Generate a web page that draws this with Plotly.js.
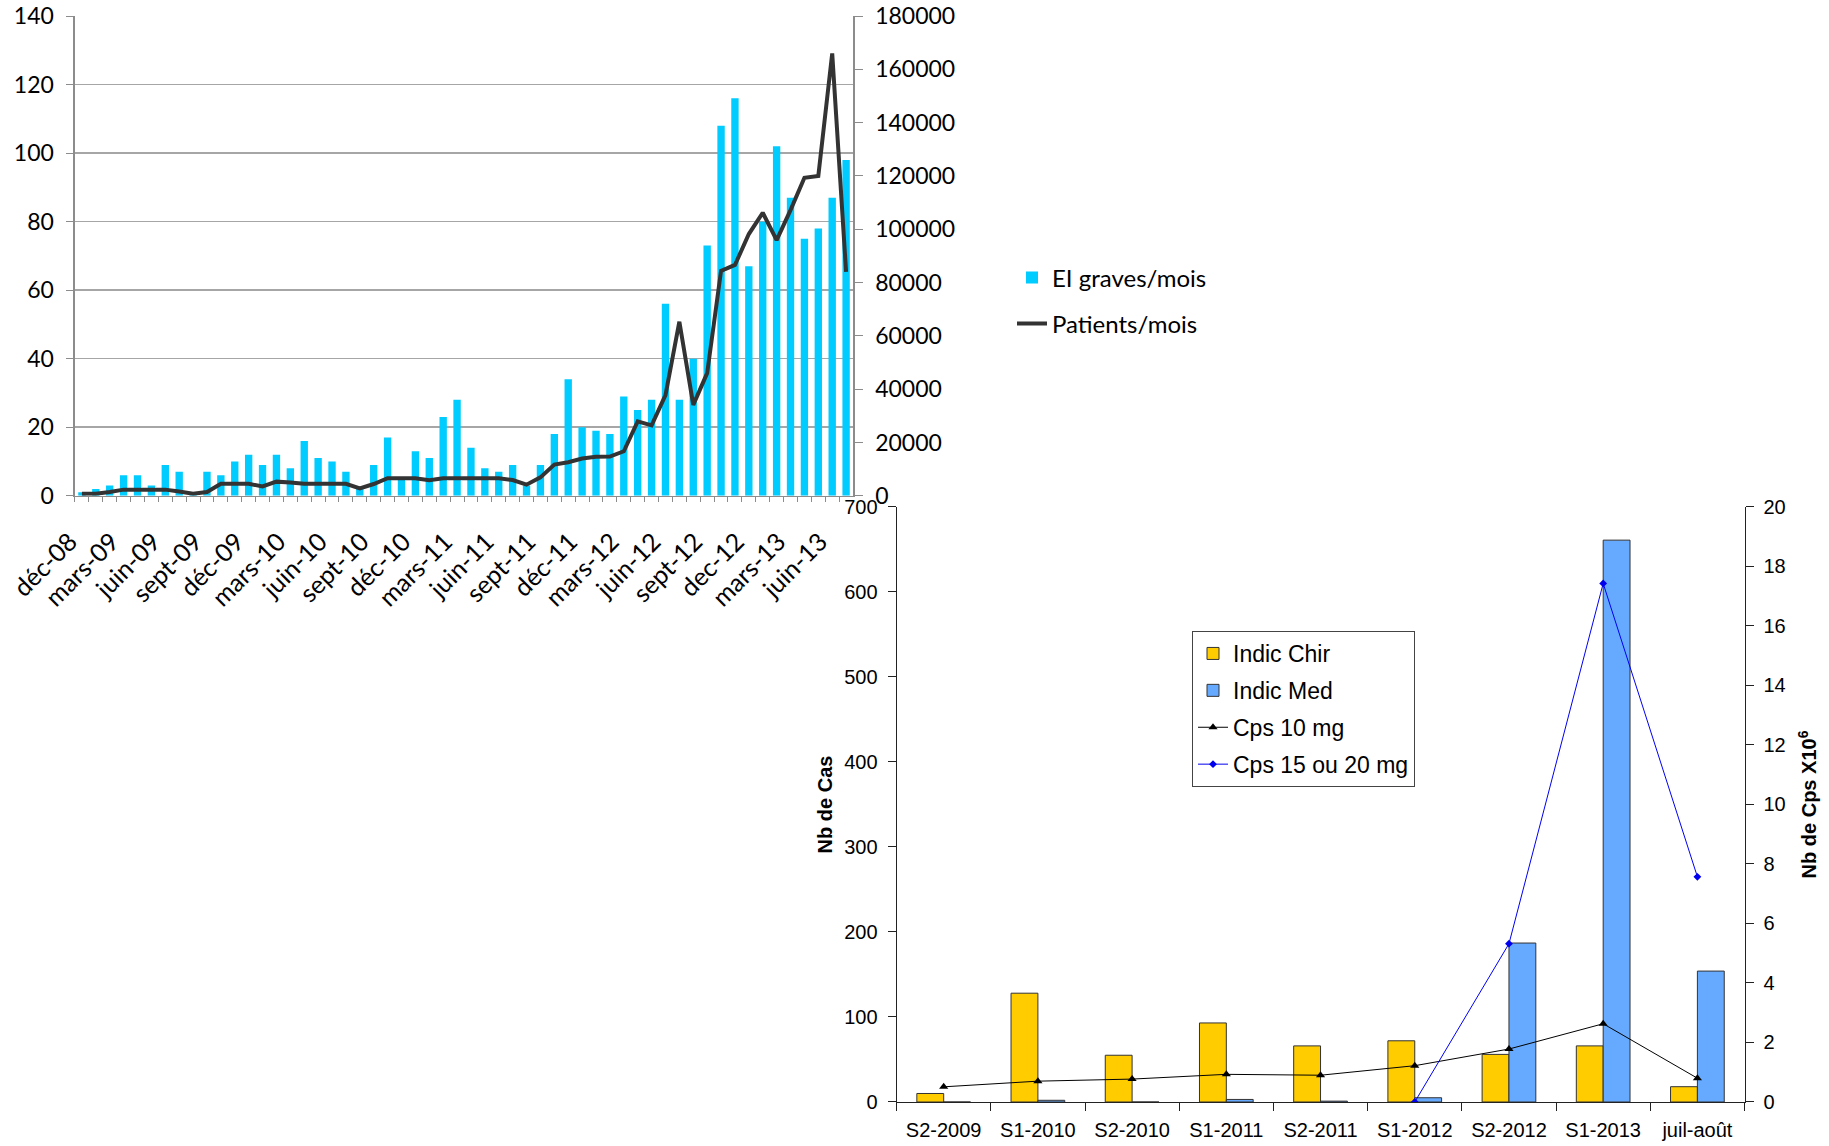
<!DOCTYPE html>
<html>
<head>
<meta charset="utf-8">
<script src="https://cdn.plot.ly/plotly-3.0.1.min.js"></script>
<style>html,body{margin:0;padding:0;background:#fff;}#chart{width:1829px;height:1146px;}</style>
</head>
<body>
<div id="chart"></div>
<script>
// ---- Top chart data (monthly) ----
const months = ['déc-08','janv-09','févr-09','mars-09','avr-09','mai-09','juin-09','juil-09','août-09','sept-09','oct-09','nov-09',
  'déc-09','janv-10','févr-10','mars-10','avr-10','mai-10','juin-10','juil-10','août-10','sept-10','oct-10','nov-10',
  'déc-10','janv-11','févr-11','mars-11','avr-11','mai-11','juin-11','juil-11','août-11','sept-11','oct-11','nov-11',
  'déc-11','janv-12','févr-12','mars-12','avr-12','mai-12','juin-12','juil-12','août-12','sept-12','oct-12','nov-12',
  'dec-12','janv-13','févr-13','mars-13','avr-13','mai-13','juin-13','juil-13'];
const eiGraves = [1,2,3,6,6,3,9,7,1,7, 6,10,12,9,12,8,16,11,10,7, 2,9,17,5,13,11,23,28,14,8,
  7,9,3,9,18,34,20,19,18,29, 25,28,56,28,40,73,108,116,67,80, 102,87,75,78,87,98];
const patients = [750,750,1400,2300,2300,2300,2300,1600,750,1400,
  4500,4500,4500,3500,5300,5000,4500,4500,4500,4500,
  2800,4400,6600,6600,6600,5800,6600,6600,6600,6600,
  6600,5900,4150,6900,11700,12600,14000,14600,14700,16700,
  27900,26400,37800,65300,34100,46000,84400,86600,98200,106200,
  95900,107200,119300,120000,166000,84000];
const monthTickText = months.map((m, i) => (i % 3 === 0 ? m : ''));

// ---- Bottom chart data (semesters) ----
const semesters = ['S2-2009','S1-2010','S2-2010','S1-2011','S2-2011','S1-2012','S2-2012','S1-2013','juil-août'];
const indicChir = [10,128,55,93,66,72,56,66,18];
const indicMed = [0,2,0,3,1,5,187,661,154];
const cps10 = [0.51,0.70,0.77,0.93,0.90,1.22,1.78,2.63,0.80];
const cps1520 = [null,null,null,null,null,0,5.32,17.43,7.57];

const topFont = 'Lato, "Open Sans", sans-serif';
const botFont = '"Liberation Sans", Arial, sans-serif';
const gray = '#8c8c8c';

const traces = [
  {type:'bar', x:months, y:eiGraves, xaxis:'x', yaxis:'y', name:'EI graves/mois',
   marker:{color:'#00CCFF'}, width:0.53, legend:'legend'},
  {type:'scatter', mode:'lines', x:months, y:patients, xaxis:'x', yaxis:'y2', name:'Patients/mois',
   line:{color:'#333333', width:4}, legend:'legend2'},
  {type:'bar', x:semesters, y:indicChir, xaxis:'x2', yaxis:'y3', name:'Indic Chir',
   marker:{color:'#FFCC00', line:{color:'#333', width:1}}, legend:'legend3', legendgroup:'a'},
  {type:'bar', x:semesters, y:indicMed, xaxis:'x2', yaxis:'y3', name:'Indic Med',
   marker:{color:'#66AAFF', line:{color:'#333', width:1}}, legend:'legend3', legendgroup:'b'},
  {type:'scatter', mode:'lines+markers', x:semesters, y:cps10, xaxis:'x2', yaxis:'y4', name:'Cps 10 mg',
   line:{color:'#000', width:1}, marker:{symbol:'triangle-up', size:8, color:'#000'}, legend:'legend3', legendgroup:'c'},
  {type:'scatter', mode:'lines+markers', x:semesters, y:cps1520, xaxis:'x2', yaxis:'y4', name:'Cps 15 ou 20 mg',
   line:{color:'#0000EE', width:1}, marker:{symbol:'diamond', size:6, color:'#0000EE'}, legend:'legend3', legendgroup:'d', connectgaps:false}
];

const layout = {
  width:1829, height:1146,
  margin:{l:0, r:0, t:0, b:0},
  paper_bgcolor:'#fff', plot_bgcolor:'rgba(0,0,0,0)',
  barmode:'group', bargap:0.43, bargroupgap:0,
  font:{family:topFont, color:'#000'},
  xaxis:{domain:[0.0410,0.4664], anchor:'y', type:'category', range:[-0.5,55.5],
    tickmode:'array', tickvals:months, ticktext:monthTickText, tickangle:-45,
    ticks:'outside', ticklen:5, tickcolor:gray, tickson:'boundaries', ticklabelstandoff:20, ticklabelshift:-12,
    showline:true, linecolor:gray, linewidth:1.5, showgrid:false,
    tickfont:{family:topFont, size:25, color:'#000'}},
  yaxis:{domain:[0.5674,0.986], anchor:'x', range:[0,140], dtick:20,
    showgrid:true, gridcolor:'#a6a6a6', gridwidth:1.5, zeroline:false,
    showline:true, linecolor:gray, linewidth:1.5, ticks:'outside', ticklen:7, tickcolor:gray,
    ticklabelstandoff:8, tickfont:{family:topFont, size:23, color:'#000'}},
  yaxis2:{overlaying:'y', side:'right', anchor:'x', range:[0,180000], dtick:20000, tickformat:'d',
    showgrid:false, zeroline:false, showline:true, linecolor:gray, linewidth:1.5,
    ticks:'outside', ticklen:8, tickcolor:gray, ticklabelstandoff:8,
    tickfont:{family:topFont, size:23, color:'#000'}},
  xaxis2:{domain:[0.4902,0.9538], anchor:'y3', type:'category', range:[-0.5,8.5],
    ticks:'outside', ticklen:8, tickcolor:'#222', tickson:'boundaries', ticklabelstandoff:10,
    showline:true, linecolor:'#222', linewidth:1, showgrid:false,
    tickfont:{family:botFont, size:20, color:'#000'}},
  yaxis3:{domain:[0.0384,0.5576], anchor:'x2', range:[0,700], dtick:100,
    showgrid:false, zeroline:false, showline:true, linecolor:'#222', linewidth:1,
    ticks:'outside', ticklen:8, tickcolor:'#222', ticklabelstandoff:6,
    tickfont:{family:botFont, size:20, color:'#000'},
    title:{text:'Nb de Cas', standoff:6, font:{family:botFont, size:20, weight:'bold', color:'#000'}}},
  yaxis4:{overlaying:'y3', side:'right', anchor:'x2', range:[0,20], dtick:2,
    showgrid:false, zeroline:false, showline:true, linecolor:'#222', linewidth:1,
    ticks:'outside', ticklen:8, tickcolor:'#222', ticklabelstandoff:6,
    tickfont:{family:botFont, size:20, color:'#000'},
    title:{text:'Nb de Cps X10<sup>6</sup>', standoff:17, font:{family:botFont, size:20, weight:'bold', color:'#000'}}},
  legend:{x:1012/1829, y:1-278/1146, xanchor:'left', yanchor:'middle', bgcolor:'rgba(0,0,0,0)',
    font:{family:topFont, size:24, color:'#000'}},
  legend2:{x:1012/1829, y:1-324/1146, xanchor:'left', yanchor:'middle', bgcolor:'rgba(0,0,0,0)',
    font:{family:topFont, size:24, color:'#000'}},
  legend3:{x:1192/1829, y:1-631/1146, xanchor:'left', yanchor:'top', bgcolor:'#fff',
    bordercolor:'#444', borderwidth:1, tracegroupgap:4, traceorder:'grouped',
    font:{family:botFont, size:23, color:'#000'}},
  showlegend:true
};

Plotly.newPlot('chart', traces, layout, {displayModeBar:false, staticPlot:true});
</script>
</body>
</html>
